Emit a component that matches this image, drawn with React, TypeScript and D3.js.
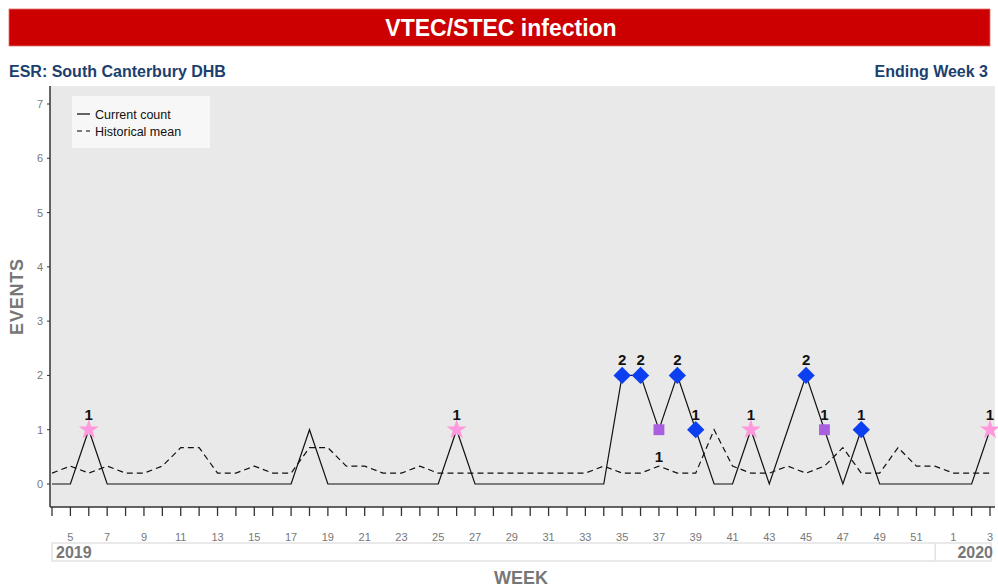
import React from "react";
import * as d3 from "d3";

const WEEKS = [
  4, 5, 6, 7, 8, 9, 10, 11, 12, 13, 14, 15, 16, 17, 18, 19, 20, 21, 22, 23, 24,
  25, 26, 27, 28, 29, 30, 31, 32, 33, 34, 35, 36, 37, 38, 39, 40, 41, 42, 43,
  44, 45, 46, 47, 48, 49, 50, 51, 52, 1, 2, 3,
];

const CURRENT = [
  0, 0, 1, 0, 0, 0, 0, 0, 0, 0, 0, 0, 0, 0, 1, 0, 0, 0, 0, 0, 0, 0, 1, 0, 0, 0,
  0, 0, 0, 0, 0, 2, 2, 1, 2, 1, 0, 0, 1, 0, 1, 2, 1, 0, 1, 0, 0, 0, 0, 0, 0, 1,
];

const HIST_MEAN = [
  0.2, 0.33, 0.2, 0.33, 0.2, 0.2, 0.33, 0.67, 0.67, 0.2, 0.2, 0.33, 0.2, 0.2,
  0.67, 0.67, 0.33, 0.33, 0.2, 0.2, 0.33, 0.2, 0.2, 0.2, 0.2, 0.2, 0.2, 0.2,
  0.2, 0.2, 0.33, 0.2, 0.2, 0.33, 0.2, 0.2, 1.0, 0.33, 0.2, 0.2, 0.33, 0.2,
  0.33, 0.67, 0.2, 0.2, 0.67, 0.33, 0.33, 0.2, 0.2, 0.2,
];

// alert flag per week: "" none, "star", "diamond", "square"
const FLAGS = [
  "", "", "star", "", "", "", "", "", "", "", "", "", "", "", "", "", "", "",
  "", "", "", "", "star", "", "", "", "", "", "", "", "", "diamond", "diamond",
  "square", "diamond", "diamond", "", "", "star", "", "", "diamond", "square",
  "", "diamond", "", "", "", "", "", "", "star",
];

// weeks whose value label sits under the marker
const LABEL_BELOW_WEEKS = [37];

const Y_TICKS = [0, 1, 2, 3, 4, 5, 6, 7];
const YEARS = ["2019", "2020"];

const TITLE = "VTEC/STEC infection";
const SUBTITLE_LEFT = "ESR: South Canterbury DHB";
const SUBTITLE_RIGHT = "Ending Week 3";

const FLAG_STYLE: Record<string, { fill: string; type: any; size: number; rot: number }> = {
  star: { fill: "#ff99dd", type: d3.symbolStar, size: 125, rot: 0 },
  diamond: { fill: "#0b3ff0", type: d3.symbolSquare, size: 150, rot: 45 },
  square: { fill: "#aa5fe0", type: d3.symbolSquare, size: 118, rot: 0 },
};

const PLOT = { left: 50, right: 995, top: 86, bottom: 507 };
const FONT = "'Liberation Sans', Arial, sans-serif";

export default function App() {
  const x = d3
    .scaleLinear()
    .domain([0, WEEKS.length - 1])
    .range([52, 990]);
  const y = d3.scaleLinear().domain([0, 7]).range([484, 104]);

  const currentLine = d3
    .line<number>()
    .x((_d, i) => x(i))
    .y((d) => y(d));

  const meanLine = d3
    .line<number>()
    .x((_d, i) => x(i))
    .y((d) => y(d));

  const idx2020 = WEEKS.indexOf(1);

  return (
    <svg
      width={998}
      height={588}
      style={{ position: "absolute", left: 0, top: 0, fontFamily: FONT }}
    >
      <rect x={0} y={0} width={998} height={588} fill="#fff" />

      {/* title bar */}
      <rect x={9} y={9} width={981} height={37} fill="#cc0000" stroke="#e07070" strokeWidth={0.8} />
      <text x={501} y={35.5} textAnchor="middle" fill="#fff" fontSize={23} fontWeight="bold">
        {TITLE}
      </text>

      <text x={9} y={77} fill="#1b3f6e" fontSize={16} fontWeight="bold">
        {SUBTITLE_LEFT}
      </text>
      <text x={988} y={77} textAnchor="end" fill="#1b3f6e" fontSize={16} fontWeight="bold">
        {SUBTITLE_RIGHT}
      </text>

      {/* plot background */}
      <rect
        x={PLOT.left}
        y={PLOT.top}
        width={PLOT.right - PLOT.left}
        height={PLOT.bottom - PLOT.top}
        fill="#e9e9e9"
      />
      <line x1={PLOT.left} x2={PLOT.left} y1={PLOT.top} y2={PLOT.bottom} stroke="#333" strokeWidth={1.5} />
      <line x1={PLOT.left} x2={PLOT.right} y1={PLOT.bottom} y2={PLOT.bottom} stroke="#333" strokeWidth={1.5} />

      {/* y axis */}
      {Y_TICKS.map((t) => (
        <g key={t}>
          <line x1={PLOT.left - 3} x2={PLOT.left} y1={y(t)} y2={y(t)} stroke="#333" />
          <text x={PLOT.left - 7} y={y(t) + 4} textAnchor="end" fontSize={11} fill="#777">
            {t}
          </text>
        </g>
      ))}
      <text
        transform={`translate(23,${(PLOT.top + PLOT.bottom) / 2}) rotate(-90)`}
        textAnchor="middle"
        fontSize={18}
        fontWeight="bold"
        fill="#777"
        letterSpacing={0.8}
      >
        EVENTS
      </text>

      {/* x axis */}
      {WEEKS.map((w, i) => (
        <g key={i}>
          <line x1={x(i)} x2={x(i)} y1={PLOT.bottom} y2={PLOT.bottom + 9} stroke="#333" strokeWidth={1.3} />
          {w % 2 === 1 && (
            <text x={x(i)} y={541} textAnchor="middle" fontSize={11} fill="#777">
              {w}
            </text>
          )}
        </g>
      ))}

      {/* year band */}
      <rect x={52} y={543} width={939} height={18} fill="none" stroke="#e2e2e2" strokeWidth={1.5} />
      <line x1={x(idx2020) - 18} x2={x(idx2020) - 18} y1={543} y2={561} stroke="#e2e2e2" strokeWidth={1.5} />
      <text x={56} y={558} fontSize={16} fontWeight="bold" fill="#777">
        {YEARS[0]}
      </text>
      <text x={993} y={558} textAnchor="end" fontSize={16} fontWeight="bold" fill="#777">
        {YEARS[1]}
      </text>
      <text x={521} y={584} textAnchor="middle" fontSize={18} fontWeight="bold" fill="#777">
        WEEK
      </text>

      {/* legend */}
      <rect x={72} y={96} width={138} height={52} fill="#f7f7f7" />
      <line x1={77} x2={90} y1={114} y2={114} stroke="#000" strokeWidth={1.2} />
      <text x={95} y={119} fontSize={12.5} fill="#111">
        Current count
      </text>
      <line x1={77} x2={90} y1={131} y2={131} stroke="#000" strokeWidth={1.2} strokeDasharray="5,4" />
      <text x={95} y={136} fontSize={12.5} fill="#111">
        Historical mean
      </text>

      {/* lines */}
      <path d={meanLine(HIST_MEAN) ?? ""} fill="none" stroke="#111" strokeWidth={1.2} strokeDasharray="6,4" />
      <path d={currentLine(CURRENT) ?? ""} fill="none" stroke="#111" strokeWidth={1.2} />

      {/* markers + labels */}
      {CURRENT.map((v, i) => {
        const f = FLAGS[i];
        if (!f) return null;
        const s = FLAG_STYLE[f];
        const below = LABEL_BELOW_WEEKS.includes(WEEKS[i]) && i < idx2020;
        const path = d3.symbol().type(s.type).size(s.size)() ?? "";
        return (
          <g key={i}>
            <path
              d={path}
              transform={`translate(${x(i)},${y(v)}) rotate(${s.rot})`}
              fill={s.fill}
            />
            <text
              x={x(i)}
              y={below ? y(v) + 32 : y(v) - 10}
              textAnchor="middle"
              fontSize={15}
              fontWeight="bold"
              fill="#111"
            >
              {v}
            </text>
          </g>
        );
      })}
    </svg>
  );
}
